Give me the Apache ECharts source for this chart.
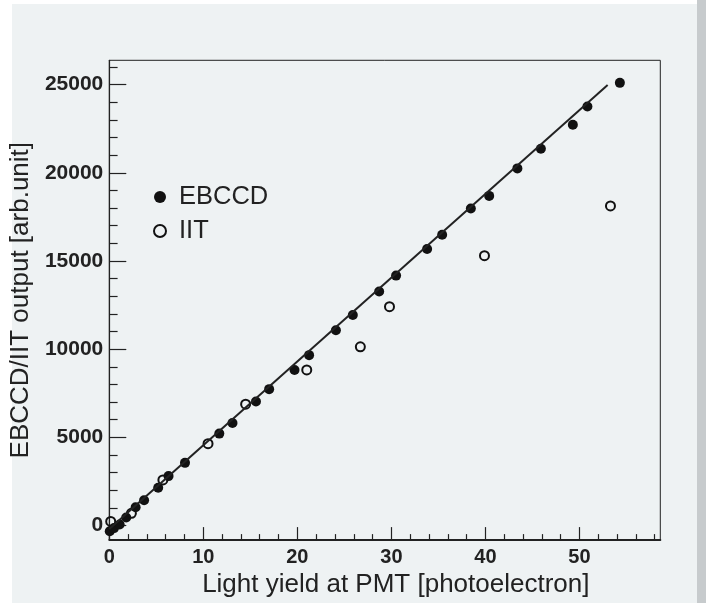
<!DOCTYPE html>
<html>
<head>
<meta charset="utf-8">
<title>EBCCD / IIT output vs light yield</title>
<script src="https://cdn.jsdelivr.net/npm/echarts@6/dist/echarts.min.js"></script>
<style>
  html, body { margin: 0; padding: 0; background: #ffffff; }
  #chart { width: 706px; height: 603px; }
</style>
</head>
<body>
<div id="chart"></div>
<script>
// EBCCD points (filled circles)
var ebccdX = [0.05, 0.5, 1.1, 1.8, 2.8, 3.7, 5.2, 6.3, 8.05, 11.7, 13.1, 15.6, 17.0, 19.7, 21.25, 24.1, 25.9, 28.7, 30.5, 33.8, 35.4, 38.45, 40.4, 43.4, 45.9, 49.3, 50.85, 54.3];
var ebccdY = [-330, -150, 50, 450, 1030, 1430, 2140, 2800, 3550, 5210, 5810, 7030, 7730, 8820, 9660, 11070, 11940, 13270, 14170, 15680, 16490, 17980, 18690, 20250, 21360, 22730, 23760, 25100];

// IIT points (open circles)
var iitX = [0.15, 2.35, 5.7, 10.5, 14.5, 21.0, 26.7, 29.8, 39.9, 53.3];
var iitY = [230, 690, 2580, 4640, 6880, 8820, 10130, 12410, 15300, 18120];

// straight-line fit, end points
var fitX = [0, 53.0];
var fitY = [-200, 24975];

// axis ticks
var xMajorTicks = [0, 10, 20, 30, 40, 50];
var xMinorTicks = [2, 4, 6, 8, 12, 14, 16, 18, 22, 24, 26, 28, 32, 34, 36, 38, 42, 44, 46, 48, 52, 54, 56, 58];
var yMajorTicks = [0, 5000, 10000, 15000, 20000, 25000];
var yMinorTicks = [1000, 2000, 3000, 4000, 6000, 7000, 8000, 9000, 11000, 12000, 13000, 14000, 16000, 17000, 18000, 19000, 21000, 22000, 23000, 24000, 26000];

var xRange = [0, 58.6];
var yRange = [-830, 26380];

function zip(xs, ys) {
  var out = [];
  for (var i = 0; i < xs.length; i++) out.push([xs[i], ys[i]]);
  return out;
}

function plain(v) {
  return String(v);
}

var font = '"Liberation Sans", Arial, Helvetica, sans-serif';
var ink = '#222222';

var chart = echarts.init(document.getElementById('chart'), null, { renderer: 'canvas' });

var option = {
  animation: false,
  backgroundColor: '#ffffff',
  textStyle: { fontFamily: font, color: ink },
  graphic: [
    { type: 'rect', z: -100, shape: { x: 12, y: 4, width: 685, height: 599 }, style: { fill: '#eef2f3' } },
    { type: 'rect', z: -100, shape: { x: 697, y: 0, width: 9, height: 603 }, style: { fill: '#c7cbcd' } }
  ],
  grid: {
    left: 108.7,
    right: 45.7,
    top: 60.3,
    bottom: 60.3,
    show: true,
    borderColor: ink,
    borderWidth: 1
  },
  legend: {
    orient: 'vertical',
    left: 148,
    top: 179,
    itemWidth: 28,
    itemHeight: 12,
    itemGap: 8,
    textStyle: { fontFamily: font, fontSize: 25.5, color: ink },
    data: ['EBCCD', 'IIT']
  },
  xAxis: [
    {
      type: 'value',
      min: xRange[0],
      max: xRange[1],
      position: 'bottom',
      name: 'Light yield at PMT [photoelectron]',
      nameLocation: 'middle',
      nameGap: 22,
      nameTextStyle: { fontFamily: font, fontSize: 26, color: ink, padding: [0, 0, 0, 22] },
      axisLine: { show: true, onZero: false, lineStyle: { color: ink, width: 2 } },
      axisTick: { show: true, inside: true, length: 13, lineStyle: { color: ink, width: 1.2 }, customValues: xMajorTicks },
      axisLabel: { show: true, margin: 7, fontFamily: font, fontSize: 20, fontWeight: 'bold', color: ink, customValues: xMajorTicks, formatter: plain },
      splitLine: { show: false }
    },
    {
      type: 'value',
      min: xRange[0],
      max: xRange[1],
      position: 'bottom',
      axisLine: { show: false, onZero: false },
      axisTick: { show: true, inside: true, length: 6, lineStyle: { color: ink, width: 1.2 }, customValues: xMinorTicks },
      axisLabel: { show: false },
      splitLine: { show: false }
    }
  ],
  yAxis: [
    {
      type: 'value',
      min: yRange[0],
      max: yRange[1],
      position: 'left',
      name: 'EBCCD/IIT output [arb.unit]',
      nameLocation: 'middle',
      nameGap: 64,
      nameTextStyle: { fontFamily: font, fontSize: 26, color: ink },
      axisLine: { show: true, onZero: false, lineStyle: { color: ink, width: 1.2 } },
      axisTick: { show: true, inside: true, length: 17, lineStyle: { color: ink, width: 1.2 }, customValues: yMajorTicks },
      axisLabel: { show: true, margin: 6, fontFamily: font, fontSize: 21, fontWeight: 'bold', color: ink, customValues: yMajorTicks, formatter: plain },
      splitLine: { show: false }
    },
    {
      type: 'value',
      min: yRange[0],
      max: yRange[1],
      position: 'left',
      axisLine: { show: false, onZero: false },
      axisTick: { show: true, inside: true, length: 8.3, lineStyle: { color: ink, width: 1.2 }, customValues: yMinorTicks },
      axisLabel: { show: false },
      splitLine: { show: false }
    }
  ],
  series: [
    {
      name: 'fit',
      type: 'line',
      xAxisIndex: 0,
      yAxisIndex: 0,
      data: zip(fitX, fitY),
      showSymbol: false,
      symbol: 'none',
      clip: true,
      lineStyle: { color: ink, width: 2 }
    },
    {
      name: 'EBCCD',
      type: 'scatter',
      xAxisIndex: 0,
      yAxisIndex: 0,
      data: zip(ebccdX, ebccdY),
      symbol: 'circle',
      symbolSize: 10,
      itemStyle: { color: '#111111', opacity: 1 }
    },
    {
      name: 'IIT',
      type: 'scatter',
      xAxisIndex: 0,
      yAxisIndex: 0,
      data: zip(iitX, iitY),
      symbol: 'circle',
      symbolSize: 9,
      itemStyle: { color: 'rgba(0,0,0,0)', borderColor: '#111111', borderWidth: 2, opacity: 1 }
    }
  ]
};

chart.setOption(option);
</script>
</body>
</html>
